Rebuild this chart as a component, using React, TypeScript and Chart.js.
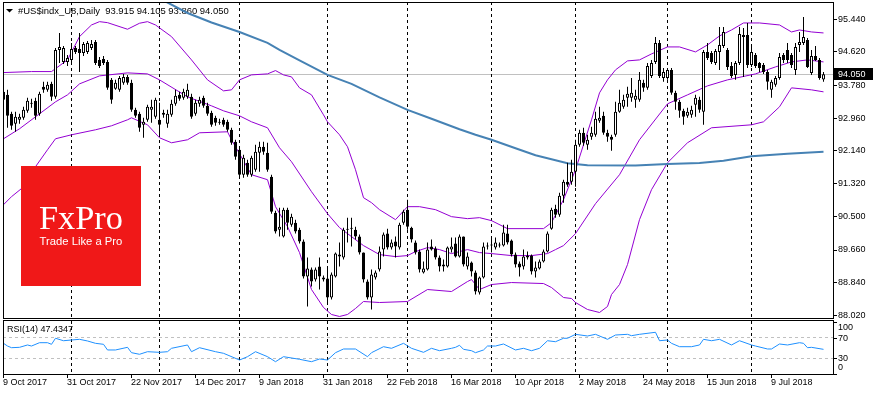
import React, { useEffect, useRef } from 'react';
import { Chart, registerables } from 'chart.js';

Chart.register(...registerables);

// ---------------- data ----------------
const symbolTitle = '#US$indx_U8,Daily  93.915 94.105 93.860 94.050';
const rsiTitle = 'RSI(14) 47.4347';
const lastPrice = 94.05;

const dateLabels = ['9 Oct 2017', '31 Oct 2017', '22 Nov 2017', '14 Dec 2017', '9 Jan 2018', '31 Jan 2018', '22 Feb 2018', '16 Mar 2018', '10 Apr 2018', '2 May 2018', '24 May 2018', '15 Jun 2018', '9 Jul 2018'];
const dateLabelBars = [0, 16, 32, 48, 64, 80, 96, 112, 128, 144, 160, 176, 192];
const monthStartBars = [17, 39, 59, 81, 101, 122, 143, 166, 187];
const priceTicks = [95.44, 94.62, 93.78, 92.96, 92.14, 91.32, 90.5, 89.66, 88.84, 88.02];
const rsiTicks = [100, 70, 30, 0];
const rsiLevels = [70, 30];

const opens = [
  93.608, 93.533, 93.058, 92.808, 92.908, 92.958, 93.133, 93.308, 93.383, 93.058,
  93.733, 93.658, 93.808, 93.483, 94.658, 94.358, 94.358, 94.408, 94.708, 94.683,
  94.583, 94.608, 94.708, 94.858, 94.408, 94.433, 94.358, 93.908, 93.683, 93.658,
  93.833, 93.983, 93.833, 93.158, 93.058, 92.783, 92.908, 93.158, 92.983, 92.908,
  93.083, 92.808, 93.033, 93.308, 93.533, 93.458, 93.483, 93.483, 93.058, 93.308,
  93.458, 93.258, 93.083, 92.958, 92.858, 92.908, 92.858, 92.658, 92.358, 92.158,
  91.533, 91.833, 91.533, 91.658, 92.083, 92.233, 92.083, 91.483, 90.583, 90.158,
  89.983, 90.658, 90.283, 90.333, 90.158, 89.858, 88.983, 89.158, 88.908, 89.233,
  88.958, 88.933, 88.458, 88.983, 89.483, 89.458, 90.183, 90.183, 90.158, 89.983,
  89.583, 88.858, 88.458, 88.958, 89.158, 89.658, 90.058, 89.708, 89.858, 89.708,
  90.333, 90.658, 90.208, 89.833, 89.608, 89.083, 89.158, 89.733, 89.683, 89.458,
  89.233, 89.233, 89.658, 89.808, 89.483, 89.983, 89.233, 89.333, 89.083, 88.583,
  88.958, 89.733, 89.758, 89.708, 89.758, 89.758, 90.058, 89.883, 89.533, 89.308,
  89.233, 89.458, 89.508, 89.108, 89.183, 89.358, 89.608, 90.183, 90.683, 90.533,
  91.008, 91.358, 91.358, 91.608, 92.283, 92.583, 92.283, 92.483, 92.533, 92.883,
  93.008, 92.583, 92.483, 92.533, 93.108, 93.233, 93.458, 93.458, 93.408, 93.408,
  93.833, 93.708, 94.008, 94.358, 94.833, 93.958, 93.958, 94.158, 93.583, 93.358,
  93.133, 93.008, 93.033, 93.283, 93.408, 93.108, 94.608, 94.583, 94.333, 94.608,
  94.758, 94.658, 94.258, 94.033, 94.333, 94.983, 95.033, 94.283, 94.533, 94.333,
  94.283, 94.108, 93.658, 93.783, 93.958, 94.533, 94.658, 94.533, 94.158, 94.783,
  94.833, 94.908, 94.083, 94.508, 94.408, 93.915,
];

const highs = [
  93.708, 93.658, 93.108, 93.108, 93.058, 93.233, 93.458, 93.433, 93.458, 93.608,
  93.858, 93.858, 93.858, 94.708, 95.083, 94.758, 94.533, 94.833, 94.758, 95.083,
  94.858, 94.883, 94.908, 94.908, 94.483, 94.508, 94.408, 93.958, 93.908, 94.008,
  94.058, 94.033, 93.908, 93.208, 93.108, 92.958, 93.283, 93.408, 93.458, 93.333,
  93.158, 93.158, 93.408, 93.658, 93.608, 93.683, 93.808, 93.558, 93.408, 93.483,
  93.508, 93.333, 93.133, 93.008, 92.933, 92.958, 92.908, 92.708, 92.408, 92.208,
  92.033, 91.908, 92.008, 92.283, 92.358, 92.358, 92.333, 91.533, 90.633, 90.708,
  90.708, 90.708, 90.558, 90.408, 90.208, 89.908, 89.458, 89.208, 89.208, 89.458,
  89.008, 89.233, 89.083, 89.583, 89.833, 90.208, 90.458, 90.458, 90.233, 90.033,
  89.583, 88.908, 89.158, 89.133, 89.733, 90.083, 90.183, 89.908, 89.983, 90.333,
  90.658, 90.908, 90.233, 89.883, 89.658, 89.358, 89.833, 89.908, 89.733, 89.508,
  89.408, 89.733, 89.958, 89.958, 90.033, 89.983, 89.583, 89.358, 89.133, 88.983,
  89.833, 89.833, 89.983, 89.958, 89.833, 90.283, 90.283, 89.908, 89.583, 89.358,
  89.658, 89.608, 89.533, 89.358, 89.408, 89.658, 90.108, 90.708, 90.783, 91.083,
  91.408, 91.833, 91.908, 92.408, 92.658, 92.708, 92.533, 92.733, 93.108, 93.233,
  93.108, 92.658, 92.533, 93.358, 93.658, 93.533, 93.733, 93.958, 93.658, 94.108,
  93.908, 94.333, 94.408, 94.983, 94.908, 94.208, 94.208, 94.208, 93.633, 93.408,
  93.183, 93.208, 93.258, 93.533, 93.483, 94.658, 94.833, 94.633, 94.683, 95.233,
  95.233, 94.708, 94.358, 94.383, 95.233, 95.208, 95.333, 94.733, 94.583, 94.358,
  94.333, 94.158, 93.908, 94.008, 94.583, 94.583, 94.833, 94.583, 94.833, 95.108,
  95.483, 94.958, 94.658, 94.758, 94.458, 94.105,
];

const lows = [
  93.333, 92.708, 92.658, 92.608, 92.808, 92.908, 93.083, 93.208, 92.908, 93.008,
  93.583, 93.608, 93.383, 93.433, 94.333, 94.308, 94.258, 94.358, 94.558, 94.108,
  94.508, 94.558, 94.658, 94.283, 94.208, 94.283, 93.658, 93.308, 93.658, 93.608,
  93.783, 93.783, 93.108, 92.958, 92.608, 92.458, 92.858, 92.833, 92.933, 92.533,
  92.958, 92.708, 92.983, 93.258, 93.383, 93.408, 93.433, 92.933, 93.008, 93.233,
  93.208, 93.008, 92.733, 92.758, 92.783, 92.733, 92.608, 92.283, 91.908, 91.458,
  91.458, 91.483, 91.483, 91.608, 91.608, 92.033, 91.608, 90.558, 90.058, 89.983,
  89.958, 90.158, 90.233, 90.058, 89.808, 88.933, 88.233, 88.733, 88.858, 88.658,
  88.858, 88.333, 88.408, 88.958, 89.233, 89.408, 89.833, 89.733, 89.908, 89.533,
  88.833, 88.408, 88.158, 88.908, 89.108, 89.483, 89.658, 89.658, 89.458, 89.658,
  90.283, 90.158, 89.833, 89.533, 89.083, 89.058, 89.133, 89.633, 89.408, 89.108,
  89.108, 89.208, 89.583, 89.458, 89.458, 89.233, 89.158, 88.983, 88.533, 88.533,
  88.933, 89.658, 89.583, 89.658, 89.708, 89.733, 89.783, 89.483, 89.208, 88.983,
  89.158, 89.408, 89.033, 88.958, 89.158, 89.333, 89.583, 90.158, 90.458, 90.483,
  90.833, 91.233, 91.283, 91.233, 92.233, 92.258, 92.158, 92.408, 92.483, 92.833,
  92.533, 92.358, 92.133, 92.483, 93.083, 93.183, 93.233, 93.358, 93.208, 93.358,
  93.608, 93.658, 93.958, 94.308, 93.958, 93.858, 93.908, 93.533, 93.158, 92.958,
  92.783, 92.958, 92.958, 92.983, 93.083, 92.783, 94.408, 94.308, 94.283, 94.158,
  94.708, 94.158, 93.958, 93.908, 94.283, 93.983, 94.208, 94.233, 94.208, 94.108,
  94.058, 93.658, 93.458, 93.733, 93.908, 94.333, 94.333, 94.208, 94.033, 94.608,
  94.783, 94.208, 94.033, 94.383, 93.908, 93.860,
];

const closes = [
  93.408, 93.008, 92.758, 92.983, 92.983, 93.158, 93.383, 93.333, 93.008, 93.558,
  93.658, 93.783, 93.483, 94.658, 94.733, 94.708, 94.458, 94.683, 94.608, 94.583,
  94.808, 94.833, 94.808, 94.333, 94.258, 94.333, 93.708, 93.408, 93.833, 93.958,
  93.983, 93.833, 93.158, 93.008, 92.708, 92.858, 93.233, 93.233, 93.408, 92.783,
  93.033, 93.058, 93.308, 93.508, 93.433, 93.608, 93.658, 92.983, 93.333, 93.408,
  93.258, 93.058, 92.783, 92.833, 92.833, 92.783, 92.658, 92.333, 91.983, 91.533,
  91.958, 91.533, 91.958, 92.108, 92.233, 92.108, 91.658, 90.608, 90.108, 90.233,
  90.658, 90.333, 90.483, 90.108, 89.858, 88.983, 89.183, 88.858, 89.158, 88.983,
  88.908, 88.458, 89.033, 89.558, 89.533, 90.158, 90.158, 90.208, 89.983, 89.583,
  88.908, 88.458, 89.033, 89.083, 89.608, 90.033, 89.708, 89.833, 89.733, 90.283,
  90.608, 90.233, 89.908, 89.583, 89.158, 89.183, 89.658, 89.658, 89.458, 89.233,
  89.283, 89.708, 89.733, 89.483, 89.983, 89.283, 89.483, 89.108, 88.608, 88.958,
  89.733, 89.758, 89.783, 89.833, 89.783, 90.083, 89.833, 89.533, 89.283, 89.208,
  89.483, 89.508, 89.108, 89.208, 89.358, 89.608, 90.058, 90.658, 90.533, 91.008,
  91.358, 91.283, 91.608, 92.283, 92.583, 92.333, 92.408, 92.583, 92.933, 92.958,
  92.583, 92.483, 92.408, 93.108, 93.333, 93.408, 93.558, 93.583, 93.508, 93.908,
  93.708, 94.258, 94.333, 94.833, 94.008, 94.108, 94.158, 93.583, 93.358, 93.133,
  92.983, 93.108, 93.158, 93.458, 93.158, 94.608, 94.458, 94.358, 94.633, 94.783,
  95.108, 94.233, 94.008, 94.333, 95.058, 95.033, 94.283, 94.608, 94.258, 94.208,
  94.108, 93.858, 93.858, 93.958, 94.483, 94.408, 94.408, 94.283, 94.733, 94.858,
  94.983, 94.233, 94.508, 94.408, 93.958, 94.050,
];

// [bar index, value]
const ma200 = [
  [30, 96.446], [40, 95.896], [46, 95.583], [52, 95.346], [59, 95.108], [66, 94.833], [69, 94.658],
  [74, 94.396], [81, 94.033], [87, 93.808], [94, 93.47], [101, 93.158], [107, 92.933], [114, 92.671],
  [118, 92.533], [122, 92.408], [128, 92.196], [133, 92.021], [138, 91.896], [141, 91.821], [146, 91.771],
  [158, 91.766], [166, 91.801], [174, 91.826], [180, 91.883], [187, 91.996], [196, 92.058], [205, 92.108],
];

const bbUpper = [
  [0, 94.091], [7, 94.116], [12, 94.116], [16, 94.408], [19, 94.991], [22, 95.283], [24, 95.366], [26, 95.341],
  [31, 95.176], [34, 95.326], [36, 95.366], [38, 95.283], [42, 94.991], [47, 94.408], [51, 93.908], [55, 93.633],
  [57, 93.658], [59, 93.908], [62, 94.033], [66, 94.058], [68, 94.141], [70, 94.033], [72, 93.983], [74, 93.708],
  [77, 93.533], [80, 93.033], [81, 92.858], [84, 92.533], [86, 92.233], [88, 91.658], [90, 90.958], [92, 90.833],
  [94, 90.658], [98, 90.408], [101, 90.733], [104, 90.733], [108, 90.658], [112, 90.483], [116, 90.433], [119, 90.458],
  [122, 90.383], [126, 90.183], [135, 90.183], [137, 90.333], [140, 90.908], [143, 91.658], [147, 92.908], [149, 93.583],
  [151, 93.908], [153, 94.158], [156, 94.383], [159, 94.408], [162, 94.558], [166, 94.733], [169, 94.733], [173, 94.608],
  [176, 94.783], [179, 95.008], [182, 95.158], [185, 95.333], [189, 95.333], [194, 95.283], [197, 95.108], [199, 95.158],
  [202, 95.108], [205, 95.083],
];

const bbMiddle = [
  [0, 92.433], [4, 92.683], [8, 92.983], [13, 93.358], [16, 93.533], [19, 93.808], [24, 94.008], [31, 94.083],
  [36, 94.058], [39, 93.908], [46, 93.483], [52, 93.258], [55, 93.133], [59, 93.008], [62, 92.858], [66, 92.708],
  [69, 92.208], [72, 91.858], [77, 91.108], [81, 90.558], [84, 90.208], [87, 89.983], [90, 89.758], [94, 89.533],
  [98, 89.483], [101, 89.508], [103, 89.608], [106, 89.708], [109, 89.658], [112, 89.558], [116, 89.658], [119, 89.583],
  [122, 89.558], [127, 89.508], [132, 89.508], [136, 89.558], [138, 89.658], [140, 89.758], [143, 90.058], [148, 90.808],
  [154, 91.533], [159, 92.408], [166, 93.308], [171, 93.533], [176, 93.758], [181, 93.908], [188, 94.058], [193, 94.233],
  [197, 94.358], [201, 94.408], [205, 94.358],
];

const bbLower = [
  [0, 90.783], [2, 90.983], [6, 91.308], [8, 91.733], [11, 92.158], [13, 92.433], [17, 92.533], [23, 92.658],
  [27, 92.758], [31, 92.908], [32, 92.958], [36, 92.783], [39, 92.458], [42, 92.333], [46, 92.408], [49, 92.583],
  [56, 92.608], [57, 92.408], [62, 91.533], [66, 91.408], [68, 90.733], [71, 90.233], [74, 89.583], [77, 88.658],
  [80, 88.208], [82, 88.033], [84, 87.983], [86, 88.033], [88, 88.183], [90, 88.358], [94, 88.333], [101, 88.358],
  [106, 88.658], [112, 88.608], [116, 88.858], [117, 88.908], [119, 88.658], [122, 88.783], [127, 88.833], [135, 88.808],
  [137, 88.708], [140, 88.458], [142, 88.433], [143, 88.333], [146, 88.158], [149, 88.083], [151, 88.233], [152, 88.533],
  [154, 88.783], [156, 89.283], [159, 90.408], [162, 91.158], [166, 91.833], [171, 92.333], [177, 92.708], [187, 92.783],
  [190, 92.858], [194, 93.233], [197, 93.708], [202, 93.658], [205, 93.608],
];

const rsi14 = [
  [0, 59.0], [1, 53.8], [2, 50.6], [4, 51.3], [6, 55.8], [7, 53.8], [9, 60.2], [11, 60.2], [12, 57.1], [13, 68.7],
  [15, 64.0], [17, 65.4], [19, 66.7], [21, 63.5], [23, 59.0], [25, 57.1], [26, 46.2], [28, 46.2], [31, 51.3], [32, 41.0],
  [34, 37.9], [36, 42.9], [39, 41.7], [41, 42.9], [42, 49.4], [46, 55.8], [47, 42.9], [49, 50.6], [53, 42.9], [55, 39.8],
  [59, 26.9], [61, 33.3], [63, 42.9], [66, 33.3], [68, 23.7], [70, 33.3], [74, 28.3], [77, 23.7], [79, 28.8], [81, 26.9],
  [83, 41.0], [85, 48.1], [88, 48.1], [91, 33.3], [92, 41.0], [95, 52.5], [97, 49.4], [100, 59.0], [102, 49.4], [105, 41.7],
  [107, 49.4], [109, 44.8], [112, 49.4], [113, 51.3], [114, 55.2], [115, 47.5], [117, 44.8], [118, 41.0], [120, 46.2], [121, 53.8],
  [123, 53.8], [125, 57.7], [128, 46.2], [130, 49.4], [132, 44.8], [134, 49.4], [136, 64.0], [138, 62.1], [140, 68.7], [141, 68.7],
  [143, 76.3], [146, 73.1], [148, 76.3], [151, 66.7], [153, 75.0], [156, 76.3], [157, 73.7], [159, 76.3], [163, 80.2], [164, 64.0],
  [166, 65.4], [167, 59.0], [169, 52.5], [172, 52.5], [174, 55.8], [175, 66.7], [177, 64.0], [179, 66.7], [182, 55.8], [184, 64.0],
  [187, 55.8], [188, 53.8], [191, 48.1], [192, 48.1], [194, 57.7], [196, 55.8], [199, 60.2], [200, 59.0], [201, 50.6], [202, 51.3],
  [205, 47.43],
];

// ---------------- look ----------------
const FAMILY = '"Liberation Sans", Arial, sans-serif';
const FONT = `9px ${FAMILY}`;
const X_MIN = -0.125;
const X_MAX = 207.375;
const PRICE_MIN = 87.945;
const PRICE_MAX = 95.858;
const W = 873;
const H = 395;

const pts = (arr: number[][]) => arr.map(([x, y]) => ({ x, y }));

const mainDecor = {
  id: 'mainDecor',
  beforeDraw(chart: any) {
    const { ctx, width, height } = chart;
    ctx.save();
    ctx.fillStyle = '#ffffff';
    ctx.fillRect(0, 0, width, height);
    ctx.restore();
  },
  beforeDatasetsDraw(chart: any) {
    const { ctx, chartArea: a, scales } = chart;
    const xs = scales.x;
    const ys = scales.y;
    ctx.save();
    const py = Math.floor(ys.getPixelForValue(lastPrice)) + 0.5;
    ctx.strokeStyle = '#c0c0c0';
    ctx.lineWidth = 1;
    ctx.beginPath();
    ctx.moveTo(a.left, py);
    ctx.lineTo(a.right, py);
    ctx.stroke();
    ctx.strokeStyle = '#000000';
    ctx.setLineDash([3, 3]);
    for (const b of monthStartBars) {
      const x = Math.floor(xs.getPixelForValue(b)) + 0.5;
      ctx.beginPath();
      ctx.moveTo(x, a.top);
      ctx.lineTo(x, a.bottom);
      ctx.stroke();
    }
    ctx.setLineDash([]);
    // title (indicator lines pass over it)
    ctx.fillStyle = '#000000';
    ctx.beginPath();
    ctx.moveTo(6, 9);
    ctx.lineTo(13, 9);
    ctx.lineTo(9.5, 12.5);
    ctx.closePath();
    ctx.fill();
    ctx.font = FONT;
    const tw = ctx.measureText(symbolTitle).width;
    ctx.font = `${(9 * 211) / tw}px ${FAMILY}`;
    ctx.textAlign = 'left';
    ctx.textBaseline = 'middle';
    ctx.fillText(symbolTitle, 18, 11);
    ctx.restore();
  },
  afterDatasetsDraw(chart: any) {
    const { ctx } = chart;
    ctx.save();
    ctx.fillStyle = '#F01818';
    ctx.fillRect(21, 166, 120, 120);
    ctx.fillStyle = '#ffffff';
    ctx.textAlign = 'left';
    ctx.textBaseline = 'alphabetic';
    ctx.font = '34px "Liberation Serif", "DejaVu Serif", serif';
    let w = ctx.measureText('FxPro').width;
    ctx.font = `${(34 * 84) / w}px "Liberation Serif", "DejaVu Serif", serif`;
    ctx.fillText('FxPro', 39, 229);
    ctx.font = `11px ${FAMILY}`;
    w = ctx.measureText('Trade Like a Pro').width;
    ctx.font = `${(11 * 83) / w}px ${FAMILY}`;
    ctx.fillText('Trade Like a Pro', 39.5, 244.5);
    ctx.restore();
  },
  afterDraw(chart: any) {
    const { ctx, chartArea: a, scales } = chart;
    const ys = scales.y;
    ctx.save();
    ctx.strokeStyle = '#000000';
    ctx.lineWidth = 1;
    ctx.strokeRect(a.left + 0.5, a.top + 0.5, a.right - a.left, a.bottom - a.top);
    ctx.font = FONT;
    ctx.fillStyle = '#000000';
    ctx.textAlign = 'left';
    ctx.textBaseline = 'middle';
    for (const v of priceTicks) {
      const y = ys.getPixelForValue(v);
      const yy = Math.round(y) + 0.5;
      ctx.beginPath();
      ctx.moveTo(a.right + 1, yy);
      ctx.lineTo(a.right + 4, yy);
      ctx.stroke();
      ctx.fillText(v.toFixed(3), a.right + 5, y + 0.5);
    }
    // current price box
    const py = ys.getPixelForValue(lastPrice);
    ctx.fillStyle = '#000000';
    ctx.fillRect(a.right + 1, Math.round(py) - 6, W - a.right - 1, 12);
    ctx.fillStyle = '#ffffff';
    ctx.fillText(lastPrice.toFixed(3), a.right + 5, py + 0.5);
    ctx.restore();
  },
};

const rsiDecor = {
  id: 'rsiDecor',
  beforeDatasetsDraw(chart: any) {
    const { ctx, chartArea: a, scales } = chart;
    const xs = scales.x;
    const ys = scales.y;
    ctx.save();
    ctx.lineWidth = 1;
    ctx.setLineDash([3, 3]);
    ctx.strokeStyle = '#c0c0c0';
    for (const lv of rsiLevels) {
      const y = Math.floor(ys.getPixelForValue(lv)) + 0.5;
      ctx.beginPath();
      ctx.moveTo(a.left, y);
      ctx.lineTo(a.right, y);
      ctx.stroke();
    }
    ctx.strokeStyle = '#000000';
    for (const b of monthStartBars) {
      const x = Math.floor(xs.getPixelForValue(b)) + 0.5;
      ctx.beginPath();
      ctx.moveTo(x, a.top - 1);
      ctx.lineTo(x, a.bottom);
      ctx.stroke();
    }
    ctx.restore();
  },
  afterDraw(chart: any) {
    const { ctx, chartArea: a, scales } = chart;
    const xs = scales.x;
    const ys = scales.y;
    ctx.save();
    ctx.strokeStyle = '#000000';
    ctx.lineWidth = 1;
    const top = a.top - 2;
    ctx.strokeRect(a.left + 0.5, top + 0.5, a.right - a.left, a.bottom - top);
    ctx.font = FONT;
    ctx.fillStyle = '#000000';
    ctx.textAlign = 'left';
    ctx.textBaseline = 'middle';
    ctx.fillText(rsiTitle, 7, 330);
    for (const v of rsiTicks) {
      const y = ys.getPixelForValue(v);
      const yy = Math.round(y) + 0.5;
      ctx.beginPath();
      ctx.moveTo(a.right + 1, yy);
      ctx.lineTo(a.right + 4, yy);
      ctx.stroke();
      const ly = Math.min(Math.max(y, a.top + 5), a.bottom - 7);
      ctx.fillText(String(v), a.right + 5, ly + 0.5);
    }
    dateLabelBars.forEach((b, k) => {
      const x = Math.floor(xs.getPixelForValue(b)) + 0.5;
      ctx.beginPath();
      ctx.moveTo(x, a.bottom + 1);
      ctx.lineTo(x, a.bottom + 4);
      ctx.stroke();
      ctx.fillText(dateLabels[k], x - 0.5, a.bottom + 9);
    });
    ctx.restore();
  },
};

export default function App() {
  const mainRef = useRef<HTMLCanvasElement>(null);
  const rsiRef = useRef<HTMLCanvasElement>(null);

  useEffect(() => {
    const bodyColors = opens.map((o, i) => (closes[i] >= o ? '#ffffff' : '#000000'));
    const main = new Chart(mainRef.current as HTMLCanvasElement, {
      type: 'bar',
      data: {
        datasets: [
          {
            type: 'bar',
            label: 'bodies',
            data: opens.map((o, i) => ({ x: i, y: [o, closes[i]] })),
            backgroundColor: bodyColors,
            borderColor: '#000000',
            borderWidth: 1,
            borderSkipped: false,
            grouped: false,
            barThickness: 3,
            minBarLength: 1,
            inflateAmount: 0,
            order: 0,
          } as any,
          {
            type: 'bar',
            label: 'wicks',
            data: highs.map((h, i) => ({ x: i, y: [lows[i], h] })),
            backgroundColor: '#000000',
            borderWidth: 0,
            grouped: false,
            barThickness: 1,
            inflateAmount: 0,
            order: 1,
          } as any,
          {
            type: 'line',
            label: 'MA200',
            data: pts(ma200),
            borderColor: '#4682B4',
            borderWidth: 2,
            pointRadius: 0,
            tension: 0,
            order: 2,
          } as any,
          {
            type: 'line',
            label: 'BB upper',
            data: pts(bbUpper),
            borderColor: '#9400D3',
            borderWidth: 1,
            pointRadius: 0,
            tension: 0,
            order: 3,
          } as any,
          {
            type: 'line',
            label: 'BB middle',
            data: pts(bbMiddle),
            borderColor: '#9400D3',
            borderWidth: 1,
            pointRadius: 0,
            tension: 0,
            order: 3,
          } as any,
          {
            type: 'line',
            label: 'BB lower',
            data: pts(bbLower),
            borderColor: '#9400D3',
            borderWidth: 1,
            pointRadius: 0,
            tension: 0,
            order: 3,
          } as any,
        ],
      },
      options: {
        responsive: false,
        animation: false,
        devicePixelRatio: 1,
        events: [],
        layout: { padding: { left: 3, right: 40, top: 2, bottom: 77 } },
        plugins: { legend: { display: false }, tooltip: { enabled: false } },
        scales: {
          x: { type: 'linear', min: X_MIN, max: X_MAX, display: false, offset: false },
          y: { type: 'linear', min: PRICE_MIN, max: PRICE_MAX, display: false },
        },
      } as any,
      plugins: [mainDecor],
    });

    const rsi = new Chart(rsiRef.current as HTMLCanvasElement, {
      type: 'line',
      data: {
        datasets: [
          {
            label: 'RSI(14)',
            data: pts(rsi14),
            borderColor: '#1E90FF',
            borderWidth: 1,
            pointRadius: 0,
            tension: 0,
          },
        ],
      },
      options: {
        responsive: false,
        animation: false,
        devicePixelRatio: 1,
        events: [],
        layout: { padding: { left: 3, right: 40, top: 322, bottom: 21 } },
        plugins: { legend: { display: false }, tooltip: { enabled: false } },
        scales: {
          x: { type: 'linear', min: X_MIN, max: X_MAX, display: false },
          y: { type: 'linear', min: 0, max: 100, display: false },
        },
      } as any,
      plugins: [rsiDecor],
    });

    return () => {
      main.destroy();
      rsi.destroy();
    };
  }, []);

  return (
    <div style={{ position: 'fixed', left: 0, top: 0, width: W, height: H, background: '#ffffff' }}>
      <canvas ref={mainRef} width={W} height={H} style={{ position: 'absolute', left: 0, top: 0 }} />
      <canvas ref={rsiRef} width={W} height={H} style={{ position: 'absolute', left: 0, top: 0 }} />
    </div>
  );
}
